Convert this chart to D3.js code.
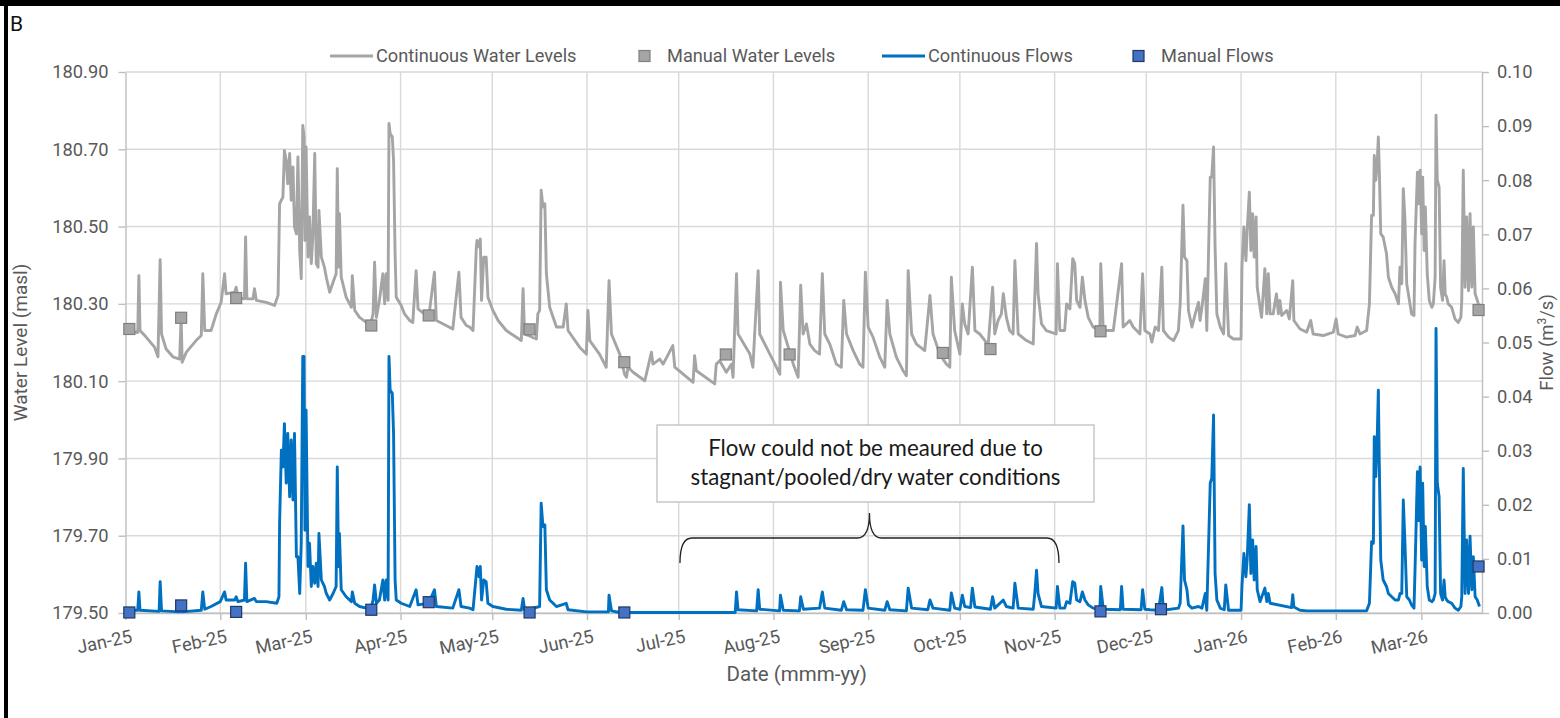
<!DOCTYPE html>
<html>
<head>
<meta charset="utf-8">
<script src="https://cdn.jsdelivr.net/npm/d3@7"></script>
<style>
  body { margin: 0; background: #fff; }
  svg text { font-family: Roboto, "Open Sans", sans-serif; }
</style>
</head>
<body>
<svg id="chart" width="1560" height="718"></svg>
<script>
// ---- data ----
const levelTicks = [179.5, 179.7, 179.9, 180.1, 180.3, 180.5, 180.7, 180.9];
const flowTicks = [0, 0.01, 0.02, 0.03, 0.04, 0.05, 0.06, 0.07, 0.08, 0.09, 0.10];
const monthTicks = ["2025-01-01", "2025-02-01", "2025-03-01", "2025-04-01", "2025-05-01", "2025-06-01",
  "2025-07-01", "2025-08-01", "2025-09-01", "2025-10-01", "2025-11-01", "2025-12-01",
  "2026-01-01", "2026-02-01", "2026-03-01"];
const dateRange = ["2025-01-01 00", "2026-03-20 20"];

const manualLevels = [
  ["2025-01-02 06", 180.235], ["2025-01-19 05", 180.264], ["2025-02-06 05", 180.315],
  ["2025-03-22 10", 180.244], ["2025-04-10 05", 180.270], ["2025-05-13 05", 180.234],
  ["2025-06-13 05", 180.149], ["2025-07-16 10", 180.169], ["2025-08-06 07", 180.169],
  ["2025-09-25 10", 180.173], ["2025-10-11 00", 180.183], ["2025-11-16 00", 180.229],
  ["2026-03-19 17", 180.284]
];

const manualFlows = [
  ["2025-01-02 06", 0.0001], ["2025-01-19 05", 0.0014], ["2025-02-06 05", 0.0002],
  ["2025-03-22 10", 0.0006], ["2025-04-10 05", 0.0020], ["2025-05-13 05", 0.0001],
  ["2025-06-13 05", 0.0001], ["2025-11-16 00", 0.0003], ["2025-12-05 19", 0.0007],
  ["2026-03-19 17", 0.0086]
];

const continuousLevels = [
  ["2025-01-01 00", 180.231], ["2025-01-05 00", 180.226], ["2025-01-05 09", 180.373], ["2025-01-05 18", 180.231],
  ["2025-01-07 18", 180.214], ["2025-01-10 12", 180.188], ["2025-01-11 15", 180.163], ["2025-01-12 08", 180.414],
  ["2025-01-12 19", 180.222], ["2025-01-14 07", 180.183], ["2025-01-16 12", 180.163], ["2025-01-18 17", 180.157],
  ["2025-01-19 05", 180.265], ["2025-01-19 13", 180.149], ["2025-01-20 22", 180.175], ["2025-01-24 02", 180.205],
  ["2025-01-25 19", 180.218], ["2025-01-26 07", 180.378], ["2025-01-26 22", 180.231], ["2025-01-29 00", 180.231],
  ["2025-01-30 17", 180.274], ["2025-02-01 07", 180.304], ["2025-02-02 10", 180.378], ["2025-02-02 22", 180.326],
  ["2025-02-05 17", 180.330], ["2025-02-06 05", 180.343], ["2025-02-06 19", 180.317], ["2025-02-08 22", 180.313],
  ["2025-02-09 07", 180.473], ["2025-02-09 17", 180.313], ["2025-02-11 17", 180.313], ["2025-02-12 05", 180.339],
  ["2025-02-12 19", 180.309], ["2025-02-16 00", 180.304], ["2025-02-18 19", 180.296], ["2025-02-19 22", 180.322],
  ["2025-02-20 10", 180.559], ["2025-02-21 12", 180.576], ["2025-02-22 00", 180.697], ["2025-02-22 14", 180.671],
  ["2025-02-23 02", 180.611], ["2025-02-23 17", 180.689], ["2025-02-24 05", 180.568], ["2025-02-24 19", 180.654],
  ["2025-02-25 07", 180.499], ["2025-02-25 22", 180.481], ["2025-02-26 10", 180.680], ["2025-02-27 00", 180.438],
  ["2025-02-27 12", 180.365], ["2025-02-28 00", 180.762], ["2025-02-28 10", 180.732], ["2025-02-28 17", 180.464],
  ["2025-03-01 02", 180.706], ["2025-03-01 17", 180.421], ["2025-03-02 05", 180.525], ["2025-03-02 19", 180.404],
  ["2025-03-03 07", 180.473], ["2025-03-03 22", 180.689], ["2025-03-04 10", 180.404], ["2025-03-05 00", 180.395],
  ["2025-03-05 07", 180.542], ["2025-03-06 02", 180.421], ["2025-03-07 02", 180.395], ["2025-03-07 17", 180.369],
  ["2025-03-08 19", 180.330], ["2025-03-09 22", 180.356], ["2025-03-10 22", 180.378], ["2025-03-11 07", 180.650],
  ["2025-03-11 17", 180.395], ["2025-03-12 00", 180.533], ["2025-03-12 14", 180.369], ["2025-03-14 05", 180.317],
  ["2025-03-15 22", 180.291], ["2025-03-16 05", 180.373], ["2025-03-17 00", 180.283], ["2025-03-18 14", 180.265],
  ["2025-03-20 19", 180.252], ["2025-03-22 05", 180.248], ["2025-03-23 00", 180.274], ["2025-03-23 12", 180.408],
  ["2025-03-24 02", 180.265], ["2025-03-25 02", 180.309], ["2025-03-26 05", 180.378], ["2025-03-26 19", 180.300],
  ["2025-03-27 07", 180.378], ["2025-03-27 22", 180.309], ["2025-03-28 05", 180.767], ["2025-03-28 14", 180.741],
  ["2025-03-29 07", 180.732], ["2025-03-29 17", 180.671], ["2025-03-30 05", 180.430], ["2025-03-30 14", 180.317],
  ["2025-04-01 05", 180.296], ["2025-04-02 07", 180.274], ["2025-04-04 00", 180.257], ["2025-04-05 00", 180.252],
  ["2025-04-06 02", 180.386], ["2025-04-06 17", 180.287], ["2025-04-10 05", 180.265], ["2025-04-12 02", 180.382],
  ["2025-04-12 17", 180.257], ["2025-04-15 22", 180.244], ["2025-04-18 02", 180.235], ["2025-04-20 02", 180.382],
  ["2025-04-20 19", 180.265], ["2025-04-22 12", 180.244], ["2025-04-23 14", 180.240], ["2025-04-24 17", 180.231],
  ["2025-04-25 19", 180.447], ["2025-04-26 00", 180.464], ["2025-04-26 17", 180.447], ["2025-04-27 02", 180.468],
  ["2025-04-27 12", 180.309], ["2025-04-28 05", 180.421], ["2025-04-29 00", 180.421], ["2025-04-29 14", 180.317],
  ["2025-05-01 05", 180.283], ["2025-05-02 22", 180.257], ["2025-05-05 14", 180.231], ["2025-05-10 12", 180.205],
  ["2025-05-11 02", 180.339], ["2025-05-11 14", 180.222], ["2025-05-15 10", 180.209], ["2025-05-15 22", 180.274],
  ["2025-05-16 12", 180.283], ["2025-05-17 00", 180.594], ["2025-05-17 14", 180.551], ["2025-05-18 05", 180.559],
  ["2025-05-18 17", 180.378], ["2025-05-19 19", 180.291], ["2025-05-22 00", 180.240], ["2025-05-24 05", 180.240],
  ["2025-05-25 05", 180.300], ["2025-05-25 19", 180.231], ["2025-05-29 14", 180.188], ["2025-05-31 19", 180.170],
  ["2025-06-01 07", 180.283], ["2025-06-01 22", 180.205], ["2025-06-05 02", 180.170], ["2025-06-07 07", 180.136],
  ["2025-06-08 05", 180.360], ["2025-06-09 00", 180.222], ["2025-06-11 17", 180.170], ["2025-06-13 07", 180.118],
  ["2025-06-13 22", 180.110], ["2025-06-14 10", 180.136], ["2025-06-16 02", 180.123], ["2025-06-19 22", 180.101],
  ["2025-06-22 02", 180.175], ["2025-06-22 14", 180.144], ["2025-06-24 19", 180.157], ["2025-06-25 22", 180.144],
  ["2025-06-29 02", 180.192], ["2025-06-29 17", 180.136], ["2025-07-05 17", 180.097], ["2025-07-06 05", 180.166],
  ["2025-07-06 19", 180.127], ["2025-07-12 19", 180.093], ["2025-07-13 07", 180.144], ["2025-07-14 10", 180.153],
  ["2025-07-16 14", 180.123], ["2025-07-18 07", 180.144], ["2025-07-18 19", 180.110], ["2025-07-19 22", 180.378],
  ["2025-07-20 10", 180.222], ["2025-07-24 07", 180.170], ["2025-07-25 07", 180.136], ["2025-07-25 22", 180.231],
  ["2025-07-27 00", 180.386], ["2025-07-27 12", 180.222], ["2025-07-31 22", 180.153], ["2025-08-03 02", 180.118],
  ["2025-08-03 07", 180.356], ["2025-08-04 05", 180.231], ["2025-08-07 12", 180.144], ["2025-08-09 02", 180.110],
  ["2025-08-09 22", 180.348], ["2025-08-10 17", 180.222], ["2025-08-11 19", 180.248], ["2025-08-12 22", 180.196],
  ["2025-08-14 12", 180.179], ["2025-08-16 02", 180.170], ["2025-08-17 00", 180.378], ["2025-08-17 19", 180.222],
  ["2025-08-19 10", 180.196], ["2025-08-21 14", 180.144], ["2025-08-23 05", 180.136], ["2025-08-24 00", 180.309],
  ["2025-08-24 22", 180.222], ["2025-08-27 02", 180.179], ["2025-08-29 05", 180.144], ["2025-08-30 07", 180.136],
  ["2025-08-31 02", 180.382], ["2025-09-01 00", 180.240], ["2025-09-02 14", 180.214], ["2025-09-04 19", 180.162],
  ["2025-09-06 10", 180.136], ["2025-09-07 05", 180.309], ["2025-09-08 02", 180.222], ["2025-09-10 05", 180.162],
  ["2025-09-12 10", 180.127], ["2025-09-13 12", 180.114], ["2025-09-14 02", 180.386], ["2025-09-15 05", 180.222],
  ["2025-09-16 19", 180.196], ["2025-09-19 12", 180.179], ["2025-09-21 05", 180.322], ["2025-09-22 05", 180.222],
  ["2025-09-24 10", 180.170], ["2025-09-26 14", 180.144], ["2025-09-27 17", 180.136], ["2025-09-28 05", 180.369],
  ["2025-09-29 07", 180.231], ["2025-10-01 00", 180.170], ["2025-10-01 19", 180.300], ["2025-10-02 14", 180.248],
  ["2025-10-03 17", 180.222], ["2025-10-05 02", 180.395], ["2025-10-05 22", 180.231], ["2025-10-07 12", 180.222],
  ["2025-10-09 05", 180.205], ["2025-10-10 05", 180.188], ["2025-10-11 17", 180.343], ["2025-10-12 10", 180.222],
  ["2025-10-13 12", 180.257], ["2025-10-14 14", 180.274], ["2025-10-15 05", 180.326], ["2025-10-16 05", 180.265],
  ["2025-10-17 07", 180.231], ["2025-10-18 10", 180.222], ["2025-10-19 00", 180.412], ["2025-10-20 02", 180.222],
  ["2025-10-22 19", 180.205], ["2025-10-25 00", 180.196], ["2025-10-25 12", 180.317], ["2025-10-26 02", 180.456],
  ["2025-10-26 14", 180.326], ["2025-10-27 17", 180.248], ["2025-10-29 07", 180.231], ["2025-11-01 12", 180.222],
  ["2025-11-01 22", 180.404], ["2025-11-02 17", 180.231], ["2025-11-04 07", 180.231], ["2025-11-04 22", 180.300],
  ["2025-11-06 00", 180.287], ["2025-11-06 22", 180.417], ["2025-11-07 14", 180.404], ["2025-11-08 05", 180.309],
  ["2025-11-09 07", 180.291], ["2025-11-10 02", 180.369], ["2025-11-10 22", 180.309], ["2025-11-12 00", 180.265],
  ["2025-11-13 14", 180.240], ["2025-11-15 19", 180.231], ["2025-11-16 02", 180.404], ["2025-11-16 22", 180.231],
  ["2025-11-20 05", 180.231], ["2025-11-22 22", 180.404], ["2025-11-23 10", 180.240], ["2025-11-25 14", 180.257],
  ["2025-11-26 17", 180.240], ["2025-11-28 22", 180.222], ["2025-11-29 19", 180.378], ["2025-11-30 12", 180.231],
  ["2025-12-02 05", 180.222], ["2025-12-02 19", 180.201], ["2025-12-03 22", 180.240], ["2025-12-05 00", 180.231],
  ["2025-12-06 02", 180.395], ["2025-12-06 14", 180.231], ["2025-12-08 07", 180.214], ["2025-12-09 22", 180.205],
  ["2025-12-11 12", 180.231], ["2025-12-12 02", 180.300], ["2025-12-13 00", 180.555], ["2025-12-13 12", 180.421],
  ["2025-12-14 07", 180.412], ["2025-12-14 19", 180.283], ["2025-12-15 22", 180.240], ["2025-12-17 00", 180.274],
  ["2025-12-18 02", 180.304], ["2025-12-18 14", 180.257], ["2025-12-19 05", 180.291], ["2025-12-20 07", 180.365],
  ["2025-12-20 19", 180.231], ["2025-12-21 22", 180.628], ["2025-12-22 10", 180.628], ["2025-12-23 00", 180.706],
  ["2025-12-23 12", 180.447], ["2025-12-24 02", 180.274], ["2025-12-25 05", 180.240], ["2025-12-26 07", 180.222],
  ["2025-12-27 00", 180.404], ["2025-12-27 22", 180.218], ["2025-12-29 12", 180.209], ["2026-01-01 00", 180.209],
  ["2026-01-01 07", 180.395], ["2026-01-01 22", 180.499], ["2026-01-02 14", 180.412], ["2026-01-03 00", 180.490],
  ["2026-01-03 17", 180.589], ["2026-01-04 05", 180.438], ["2026-01-04 19", 180.533], ["2026-01-05 07", 180.421],
  ["2026-01-05 22", 180.525], ["2026-01-06 07", 180.343], ["2026-01-07 05", 180.291], ["2026-01-07 17", 180.265],
  ["2026-01-08 19", 180.391], ["2026-01-09 10", 180.274], ["2026-01-09 22", 180.378], ["2026-01-10 12", 180.274],
  ["2026-01-11 12", 180.274], ["2026-01-12 14", 180.326], ["2026-01-13 05", 180.274], ["2026-01-13 17", 180.309],
  ["2026-01-14 07", 180.270], ["2026-01-15 22", 180.283], ["2026-01-16 19", 180.261], ["2026-01-17 22", 180.360],
  ["2026-01-18 07", 180.257], ["2026-01-20 07", 180.235], ["2026-01-22 12", 180.227], ["2026-01-23 19", 180.257],
  ["2026-01-24 14", 180.222], ["2026-01-27 22", 180.218], ["2026-01-31 05", 180.227], ["2026-02-01 02", 180.261],
  ["2026-02-01 19", 180.222], ["2026-02-04 12", 180.214], ["2026-02-07 07", 180.218], ["2026-02-08 00", 180.240],
  ["2026-02-08 22", 180.222], ["2026-02-11 02", 180.231], ["2026-02-12 00", 180.300], ["2026-02-12 17", 180.529],
  ["2026-02-13 07", 180.529], ["2026-02-13 14", 180.684], ["2026-02-14 02", 180.620], ["2026-02-14 14", 180.671],
  ["2026-02-14 22", 180.732], ["2026-02-15 05", 180.654], ["2026-02-15 17", 180.481], ["2026-02-16 12", 180.473],
  ["2026-02-17 14", 180.430], ["2026-02-18 05", 180.369], ["2026-02-19 07", 180.343], ["2026-02-20 10", 180.326],
  ["2026-02-21 12", 180.300], ["2026-02-22 00", 180.395], ["2026-02-22 14", 180.352], ["2026-02-23 02", 180.598],
  ["2026-02-23 14", 180.525], ["2026-02-24 05", 180.352], ["2026-02-25 02", 180.309], ["2026-02-25 19", 180.274],
  ["2026-02-26 14", 180.270], ["2026-02-26 22", 180.456], ["2026-02-27 17", 180.641], ["2026-02-28 02", 180.559],
  ["2026-02-28 14", 180.646], ["2026-03-01 02", 180.481], ["2026-03-01 10", 180.628], ["2026-03-01 22", 180.438],
  ["2026-03-02 07", 180.551], ["2026-03-02 22", 180.378], ["2026-03-03 14", 180.309], ["2026-03-04 10", 180.291],
  ["2026-03-04 22", 180.300], ["2026-03-05 12", 180.369], ["2026-03-05 19", 180.788], ["2026-03-06 05", 180.620],
  ["2026-03-06 19", 180.602], ["2026-03-07 07", 180.343], ["2026-03-07 22", 180.309], ["2026-03-08 10", 180.412],
  ["2026-03-08 19", 180.326], ["2026-03-09 07", 180.317], ["2026-03-09 19", 180.300], ["2026-03-10 22", 180.291],
  ["2026-03-12 00", 180.261], ["2026-03-13 02", 180.252], ["2026-03-13 22", 180.265], ["2026-03-14 05", 180.309],
  ["2026-03-14 17", 180.646], ["2026-03-15 07", 180.343], ["2026-03-15 19", 180.525], ["2026-03-16 10", 180.334],
  ["2026-03-16 22", 180.533], ["2026-03-17 12", 180.343], ["2026-03-18 00", 180.499], ["2026-03-18 14", 180.326],
  ["2026-03-19 07", 180.309], ["2026-03-20 00", 180.291]
];

const continuousFlows = [
  ["2025-01-01 00", 0.0005], ["2025-01-05 00", 0.0005], ["2025-01-05 09", 0.0039], ["2025-01-05 18", 0.0005],
  ["2025-01-12 00", 0.0003], ["2025-01-12 08", 0.0058], ["2025-01-12 19", 0.0004], ["2025-01-18 17", 0.0002],
  ["2025-01-19 05", 0.0015], ["2025-01-19 13", 0.0002], ["2025-01-25 19", 0.0005], ["2025-01-26 07", 0.0039],
  ["2025-01-26 22", 0.0007], ["2025-01-29 00", 0.0012], ["2025-02-01 00", 0.0021], ["2025-02-02 10", 0.0039],
  ["2025-02-02 22", 0.0024], ["2025-02-05 17", 0.0024], ["2025-02-06 05", 0.0030], ["2025-02-06 19", 0.0021],
  ["2025-02-08 22", 0.0024], ["2025-02-09 07", 0.0092], ["2025-02-09 17", 0.0021], ["2025-02-12 05", 0.0027],
  ["2025-02-12 19", 0.0021], ["2025-02-16 00", 0.0021], ["2025-02-19 12", 0.0018], ["2025-02-20 05", 0.0030],
  ["2025-02-20 10", 0.0166], ["2025-02-21 00", 0.0301], ["2025-02-21 12", 0.0270], ["2025-02-22 00", 0.0350],
  ["2025-02-22 14", 0.0240], ["2025-02-23 02", 0.0332], ["2025-02-23 17", 0.0215], ["2025-02-24 05", 0.0320],
  ["2025-02-24 19", 0.0209], ["2025-02-25 07", 0.0332], ["2025-02-25 22", 0.0104], ["2025-02-26 10", 0.0104],
  ["2025-02-27 00", 0.0036], ["2025-02-27 12", 0.0129], ["2025-02-28 00", 0.0474], ["2025-02-28 10", 0.0474],
  ["2025-02-28 17", 0.0153], ["2025-03-01 02", 0.0375], ["2025-03-01 17", 0.0086], ["2025-03-02 05", 0.0129],
  ["2025-03-02 19", 0.0049], ["2025-03-03 07", 0.0086], ["2025-03-03 22", 0.0055], ["2025-03-04 10", 0.0092],
  ["2025-03-05 00", 0.0049], ["2025-03-05 07", 0.0147], ["2025-03-06 02", 0.0061], ["2025-03-07 02", 0.0049],
  ["2025-03-07 17", 0.0036], ["2025-03-08 19", 0.0024], ["2025-03-09 22", 0.0036], ["2025-03-10 22", 0.0049],
  ["2025-03-11 07", 0.0270], ["2025-03-11 17", 0.0086], ["2025-03-12 00", 0.0147], ["2025-03-12 14", 0.0043],
  ["2025-03-14 05", 0.0030], ["2025-03-15 22", 0.0021], ["2025-03-16 05", 0.0039], ["2025-03-17 00", 0.0018],
  ["2025-03-18 14", 0.0012], ["2025-03-20 19", 0.0009], ["2025-03-22 05", 0.0006], ["2025-03-23 00", 0.0024],
  ["2025-03-23 12", 0.0052], ["2025-03-24 02", 0.0018], ["2025-03-25 02", 0.0024], ["2025-03-26 05", 0.0061],
  ["2025-03-26 19", 0.0024], ["2025-03-27 07", 0.0061], ["2025-03-27 22", 0.0024], ["2025-03-28 05", 0.0474],
  ["2025-03-28 14", 0.0412], ["2025-03-29 07", 0.0406], ["2025-03-29 17", 0.0332], ["2025-03-30 05", 0.0061],
  ["2025-03-30 14", 0.0024], ["2025-04-01 05", 0.0018], ["2025-04-04 00", 0.0012], ["2025-04-06 02", 0.0043],
  ["2025-04-06 17", 0.0015], ["2025-04-10 05", 0.0018], ["2025-04-12 02", 0.0043], ["2025-04-12 17", 0.0012],
  ["2025-04-18 02", 0.0009], ["2025-04-20 02", 0.0043], ["2025-04-20 19", 0.0012], ["2025-04-23 14", 0.0009],
  ["2025-04-24 17", 0.0006], ["2025-04-25 19", 0.0073], ["2025-04-26 00", 0.0086], ["2025-04-26 17", 0.0067],
  ["2025-04-27 02", 0.0086], ["2025-04-27 12", 0.0024], ["2025-04-28 05", 0.0061], ["2025-04-29 00", 0.0058],
  ["2025-04-29 14", 0.0018], ["2025-05-01 05", 0.0012], ["2025-05-05 14", 0.0007], ["2025-05-10 12", 0.0005],
  ["2025-05-11 02", 0.0027], ["2025-05-11 14", 0.0005], ["2025-05-16 12", 0.0012], ["2025-05-17 00", 0.0203],
  ["2025-05-17 14", 0.0160], ["2025-05-18 05", 0.0163], ["2025-05-18 17", 0.0043], ["2025-05-19 19", 0.0024],
  ["2025-05-22 00", 0.0012], ["2025-05-25 05", 0.0018], ["2025-05-25 19", 0.0006], ["2025-05-31 19", 0.0002],
  ["2025-06-08 00", 0.0002], ["2025-06-08 05", 0.0033], ["2025-06-09 00", 0.0004], ["2025-06-11 17", 0.0001],
  ["2025-07-19 12", 0.0001], ["2025-07-19 22", 0.0039], ["2025-07-20 10", 0.0006], ["2025-07-26 12", 0.0004],
  ["2025-07-27 00", 0.0043], ["2025-07-27 12", 0.0007], ["2025-08-03 00", 0.0004], ["2025-08-03 07", 0.0033],
  ["2025-08-04 05", 0.0005], ["2025-08-09 12", 0.0004], ["2025-08-09 22", 0.0030], ["2025-08-10 19", 0.0007],
  ["2025-08-16 02", 0.0009], ["2025-08-17 00", 0.0039], ["2025-08-17 19", 0.0009], ["2025-08-23 05", 0.0005],
  ["2025-08-24 00", 0.0021], ["2025-08-24 22", 0.0006], ["2025-08-30 07", 0.0005], ["2025-08-31 02", 0.0043],
  ["2025-09-01 00", 0.0009], ["2025-09-06 10", 0.0005], ["2025-09-07 05", 0.0021], ["2025-09-08 02", 0.0006],
  ["2025-09-13 12", 0.0004], ["2025-09-14 02", 0.0046], ["2025-09-15 05", 0.0009], ["2025-09-20 12", 0.0006],
  ["2025-09-21 05", 0.0024], ["2025-09-22 05", 0.0009], ["2025-09-27 17", 0.0005], ["2025-09-28 05", 0.0037],
  ["2025-09-29 07", 0.0009], ["2025-10-01 00", 0.0007], ["2025-10-01 19", 0.0033], ["2025-10-02 14", 0.0012],
  ["2025-10-04 12", 0.0010], ["2025-10-05 02", 0.0046], ["2025-10-05 22", 0.0011], ["2025-10-11 00", 0.0007],
  ["2025-10-11 17", 0.0030], ["2025-10-12 10", 0.0009], ["2025-10-15 05", 0.0024], ["2025-10-16 05", 0.0012],
  ["2025-10-18 10", 0.0009], ["2025-10-19 00", 0.0055], ["2025-10-20 02", 0.0009], ["2025-10-25 00", 0.0007],
  ["2025-10-25 12", 0.0036], ["2025-10-26 02", 0.0079], ["2025-10-26 14", 0.0036], ["2025-10-27 17", 0.0012],
  ["2025-11-01 12", 0.0009], ["2025-11-01 22", 0.0049], ["2025-11-02 17", 0.0009], ["2025-11-04 07", 0.0009],
  ["2025-11-04 22", 0.0021], ["2025-11-06 00", 0.0018], ["2025-11-06 22", 0.0058], ["2025-11-07 14", 0.0055],
  ["2025-11-08 05", 0.0024], ["2025-11-09 07", 0.0021], ["2025-11-10 02", 0.0039], ["2025-11-10 22", 0.0024],
  ["2025-11-12 00", 0.0015], ["2025-11-13 14", 0.0009], ["2025-11-15 19", 0.0007], ["2025-11-16 02", 0.0049],
  ["2025-11-16 22", 0.0007], ["2025-11-22 12", 0.0006], ["2025-11-22 22", 0.0049], ["2025-11-23 10", 0.0007],
  ["2025-11-29 07", 0.0006], ["2025-11-29 19", 0.0043], ["2025-11-30 12", 0.0007], ["2025-12-02 05", 0.0006],
  ["2025-12-05 00", 0.0005], ["2025-12-06 02", 0.0047], ["2025-12-06 14", 0.0005], ["2025-12-11 12", 0.0009],
  ["2025-12-12 02", 0.0018], ["2025-12-13 00", 0.0161], ["2025-12-13 12", 0.0061], ["2025-12-14 07", 0.0043],
  ["2025-12-14 19", 0.0015], ["2025-12-15 22", 0.0009], ["2025-12-18 02", 0.0012], ["2025-12-19 05", 0.0009],
  ["2025-12-20 07", 0.0036], ["2025-12-20 19", 0.0005], ["2025-12-21 22", 0.0240], ["2025-12-22 10", 0.0249],
  ["2025-12-23 00", 0.0366], ["2025-12-23 12", 0.0073], ["2025-12-24 02", 0.0024], ["2025-12-25 05", 0.0009],
  ["2025-12-26 12", 0.0006], ["2025-12-27 00", 0.0052], ["2025-12-27 22", 0.0005], ["2026-01-01 00", 0.0005],
  ["2026-01-01 07", 0.0049], ["2026-01-01 22", 0.0110], ["2026-01-02 14", 0.0067], ["2026-01-03 00", 0.0098],
  ["2026-01-03 17", 0.0200], ["2026-01-04 05", 0.0073], ["2026-01-04 19", 0.0135], ["2026-01-05 07", 0.0061],
  ["2026-01-05 22", 0.0123], ["2026-01-06 07", 0.0043], ["2026-01-07 05", 0.0021], ["2026-01-08 19", 0.0046],
  ["2026-01-09 10", 0.0021], ["2026-01-09 22", 0.0036], ["2026-01-10 12", 0.0018], ["2026-01-17 12", 0.0010],
  ["2026-01-17 22", 0.0034], ["2026-01-18 07", 0.0011], ["2026-01-20 07", 0.0005], ["2026-01-22 12", 0.0004],
  ["2026-02-11 02", 0.0004], ["2026-02-12 00", 0.0018], ["2026-02-12 17", 0.0132], ["2026-02-13 07", 0.0129],
  ["2026-02-13 14", 0.0326], ["2026-02-14 02", 0.0252], ["2026-02-14 14", 0.0332], ["2026-02-14 22", 0.0412],
  ["2026-02-15 05", 0.0283], ["2026-02-15 17", 0.0098], ["2026-02-16 12", 0.0061], ["2026-02-17 14", 0.0049],
  ["2026-02-18 05", 0.0036], ["2026-02-19 07", 0.0030], ["2026-02-20 10", 0.0024], ["2026-02-21 12", 0.0024],
  ["2026-02-22 00", 0.0036], ["2026-02-22 14", 0.0036], ["2026-02-23 02", 0.0209], ["2026-02-23 14", 0.0135],
  ["2026-02-24 05", 0.0030], ["2026-02-25 02", 0.0024], ["2026-02-25 19", 0.0015], ["2026-02-26 14", 0.0009],
  ["2026-02-26 22", 0.0079], ["2026-02-27 17", 0.0261], ["2026-02-28 02", 0.0171], ["2026-02-28 14", 0.0270],
  ["2026-03-01 02", 0.0098], ["2026-03-01 10", 0.0240], ["2026-03-01 22", 0.0086], ["2026-03-02 07", 0.0160],
  ["2026-03-02 22", 0.0049], ["2026-03-03 14", 0.0024], ["2026-03-04 10", 0.0021], ["2026-03-04 22", 0.0024],
  ["2026-03-05 12", 0.0036], ["2026-03-05 19", 0.0526], ["2026-03-06 05", 0.0240], ["2026-03-06 19", 0.0215],
  ["2026-03-07 07", 0.0036], ["2026-03-07 22", 0.0024], ["2026-03-08 10", 0.0061], ["2026-03-08 19", 0.0030],
  ["2026-03-09 07", 0.0024], ["2026-03-09 19", 0.0021], ["2026-03-10 22", 0.0018], ["2026-03-12 00", 0.0009],
  ["2026-03-13 02", 0.0005], ["2026-03-13 22", 0.0012], ["2026-03-14 05", 0.0030], ["2026-03-14 17", 0.0267],
  ["2026-03-15 07", 0.0036], ["2026-03-15 19", 0.0135], ["2026-03-16 10", 0.0036], ["2026-03-16 22", 0.0142],
  ["2026-03-17 12", 0.0043], ["2026-03-18 00", 0.0104], ["2026-03-18 14", 0.0030], ["2026-03-19 07", 0.0024],
  ["2026-03-20 00", 0.0012]
];

const legendItems = [
  { label: "Continuous Water Levels", kind: "line", color: "#a5a5a5", stroke: "#a5a5a5" },
  { label: "Manual Water Levels", kind: "square", color: "#a5a5a5", stroke: "#7f7f7f" },
  { label: "Continuous Flows", kind: "line", color: "#0070c0", stroke: "#0070c0" },
  { label: "Manual Flows", kind: "square", color: "#4472c4", stroke: "#1f3864" }
];
const noteLines = ["Flow could not be meaured due to", "stagnant/pooled/dry water conditions"];
const noFlowPeriod = ["2025-07-01 10", "2025-11-02 10"];

// ---- chart ----
const parseTime = d3.timeParse("%Y-%m-%d %H");
const parseDay = d3.timeParse("%Y-%m-%d");
const toPoints = arr => arr.map(d => ({ t: parseTime(d[0]), v: d[1] }));

const plot = { left: 125.5, right: 1482, top: 72, bottom: 613 };
const textColor = "#595959";
const gridColor = "#d9d9d9";
const axisColor = "#bfbfbf";
const tickFont = "18.3px";

const svg = d3.select("#chart");
svg.append("rect").attr("width", 1560).attr("height", 718).attr("fill", "#fff");

const x = d3.scaleTime()
  .domain([parseTime(dateRange[0]), parseTime(dateRange[1])])
  .range([plot.left, plot.right]);
const yLevel = d3.scaleLinear().domain([179.5, 180.9]).range([plot.bottom, plot.top]);
const yFlow = d3.scaleLinear().domain([0, 0.10]).range([plot.bottom, plot.top]);

// gridlines
const grid = svg.append("g");
grid.selectAll("line.h").data(levelTicks).join("line")
  .attr("x1", plot.left).attr("x2", plot.right)
  .attr("y1", d => yLevel(d)).attr("y2", d => yLevel(d))
  .attr("stroke", gridColor).attr("stroke-width", 1.4);
grid.selectAll("line.v").data(monthTicks.slice(1)).join("line")
  .attr("x1", d => x(parseDay(d))).attr("x2", d => x(parseDay(d)))
  .attr("y1", plot.top).attr("y2", plot.bottom)
  .attr("stroke", gridColor).attr("stroke-width", 1.4);

// axes
function styleAxis(g) {
  g.select(".domain").attr("stroke", axisColor).attr("stroke-width", 1.4);
  g.selectAll(".tick line").attr("stroke", axisColor).attr("stroke-width", 1.4);
  g.selectAll(".tick text").attr("fill", textColor).style("font-size", tickFont);
}

svg.append("g")
  .attr("transform", `translate(${plot.left},0)`)
  .call(d3.axisLeft(yLevel).tickValues(levelTicks).tickFormat(d3.format(".2f")).tickSize(7).tickSizeOuter(0).tickPadding(10))
  .call(styleAxis);

svg.append("g")
  .attr("transform", `translate(${plot.right},0)`)
  .call(d3.axisRight(yFlow).tickValues(flowTicks).tickFormat(d3.format(".2f")).tickSize(7).tickSizeOuter(0).tickPadding(8))
  .call(styleAxis);

const xAxisG = svg.append("g")
  .attr("transform", `translate(0,${plot.bottom})`)
  .call(d3.axisBottom(x).tickValues(monthTicks.map(parseDay)).tickFormat(d3.timeFormat("%b-%y")).tickSize(7).tickSizeOuter(0))
  .call(styleAxis);
xAxisG.selectAll(".tick text")
  .attr("x", 0).attr("y", 0).attr("dy", 0)
  .attr("text-anchor", "end")
  .attr("transform", "translate(7,29) rotate(-12)");

// series
const levelLine = d3.line().x(d => x(d.t)).y(d => yLevel(d.v));
const flowLine = d3.line().x(d => x(d.t)).y(d => yFlow(d.v));

svg.append("path").datum(toPoints(continuousLevels))
  .attr("d", levelLine).attr("fill", "none")
  .attr("stroke", "#a5a5a5").attr("stroke-width", 2.9).attr("stroke-linejoin", "round");

svg.append("path").datum(toPoints(continuousFlows))
  .attr("d", flowLine).attr("fill", "none")
  .attr("stroke", "#0070c0").attr("stroke-width", 2.9).attr("stroke-linejoin", "round");

const sq = 11;
svg.append("g").selectAll("rect").data(toPoints(manualLevels)).join("rect")
  .attr("x", d => x(d.t) - sq / 2).attr("y", d => yLevel(d.v) - sq / 2)
  .attr("width", sq).attr("height", sq)
  .attr("fill", "#a5a5a5").attr("stroke", "#7f7f7f").attr("stroke-width", 1.2);

svg.append("g").selectAll("rect").data(toPoints(manualFlows)).join("rect")
  .attr("x", d => x(d.t) - sq / 2).attr("y", d => yFlow(d.v) - sq / 2)
  .attr("width", sq).attr("height", sq)
  .attr("fill", "#4472c4").attr("stroke", "#1f3864").attr("stroke-width", 1.2);

// annotation box + brace
const box = svg.append("g");
box.append("rect")
  .attr("x", 657).attr("y", 425).attr("width", 437).attr("height", 77)
  .attr("fill", "#fff").attr("stroke", "#bfbfbf").attr("stroke-width", 1.3);
box.selectAll("text").data(noteLines).join("text")
  .attr("x", 875.5).attr("y", (d, i) => 456 + i * 29)
  .attr("text-anchor", "middle")
  .style("font-family", "Lato, 'Open Sans', sans-serif")
  .style("font-size", "22.3px").attr("fill", "#1a1a1a")
  .text(d => d);

const bx0 = x(parseTime(noFlowPeriod[0])), bx1 = x(parseTime(noFlowPeriod[1]));
const bmid = (bx0 + bx1) / 2;
const bEnd = 563, bBar = 538, bTip = 513, r = 12;
svg.append("path")
  .attr("d", `M${bx0},${bEnd} Q${bx0},${bBar} ${bx0 + r},${bBar} L${bmid - r},${bBar} Q${bmid},${bBar} ${bmid},${bTip}`
    + ` Q${bmid},${bBar} ${bmid + r},${bBar} L${bx1 - r},${bBar} Q${bx1},${bBar} ${bx1},${bEnd}`)
  .attr("fill", "none").attr("stroke", "#222").attr("stroke-width", 1.3);

// legend
const legendX = [330, 637, 882, 1131];
const legend = svg.append("g").attr("transform", "translate(0,56)");
legendItems.forEach((item, i) => {
  const g = legend.append("g").attr("transform", `translate(${legendX[i]},0)`);
  let tx;
  if (item.kind === "line") {
    g.append("line").attr("x1", 0).attr("x2", 43).attr("y1", 0).attr("y2", 0)
      .attr("stroke", item.color).attr("stroke-width", 2.9);
    tx = 46;
  } else {
    g.append("rect").attr("x", 2).attr("y", -5.5).attr("width", 11).attr("height", 11)
      .attr("fill", item.color).attr("stroke", item.stroke).attr("stroke-width", 1.2);
    tx = 30;
  }
  g.append("text").attr("x", tx).attr("y", 6).attr("fill", textColor)
    .style("font-size", "18.2px").text(item.label);
});

// axis titles
svg.append("text")
  .attr("transform", `translate(27,${(plot.top + plot.bottom) / 2}) rotate(-90)`)
  .attr("text-anchor", "middle").attr("fill", textColor).style("font-size", "19px")
  .text("Water Level (masl)");

const flowTitle = svg.append("text")
  .attr("transform", `translate(1553,${(plot.top + plot.bottom) / 2}) rotate(-90)`)
  .attr("text-anchor", "middle").attr("fill", textColor).style("font-size", "18.5px");
flowTitle.append("tspan").text("Flow (m");
flowTitle.append("tspan").attr("dy", -7).style("font-size", "12px").text("3");
flowTitle.append("tspan").attr("dy", 7).text("/s)");

svg.append("text")
  .attr("x", (plot.left + plot.right) / 2 - 7).attr("y", 681)
  .attr("text-anchor", "middle").attr("fill", textColor).style("font-size", "20.5px")
  .text("Date (mmm-yy)");

// panel frame and label
svg.append("rect").attr("x", 0).attr("y", 0).attr("width", 1560).attr("height", 6).attr("fill", "#000");
svg.append("rect").attr("x", 4).attr("y", 0).attr("width", 4).attr("height", 718).attr("fill", "#000");
svg.append("text").attr("x", 10).attr("y", 31).attr("fill", "#111").style("font-size", "21px").text("B");
</script>
</body>
</html>
